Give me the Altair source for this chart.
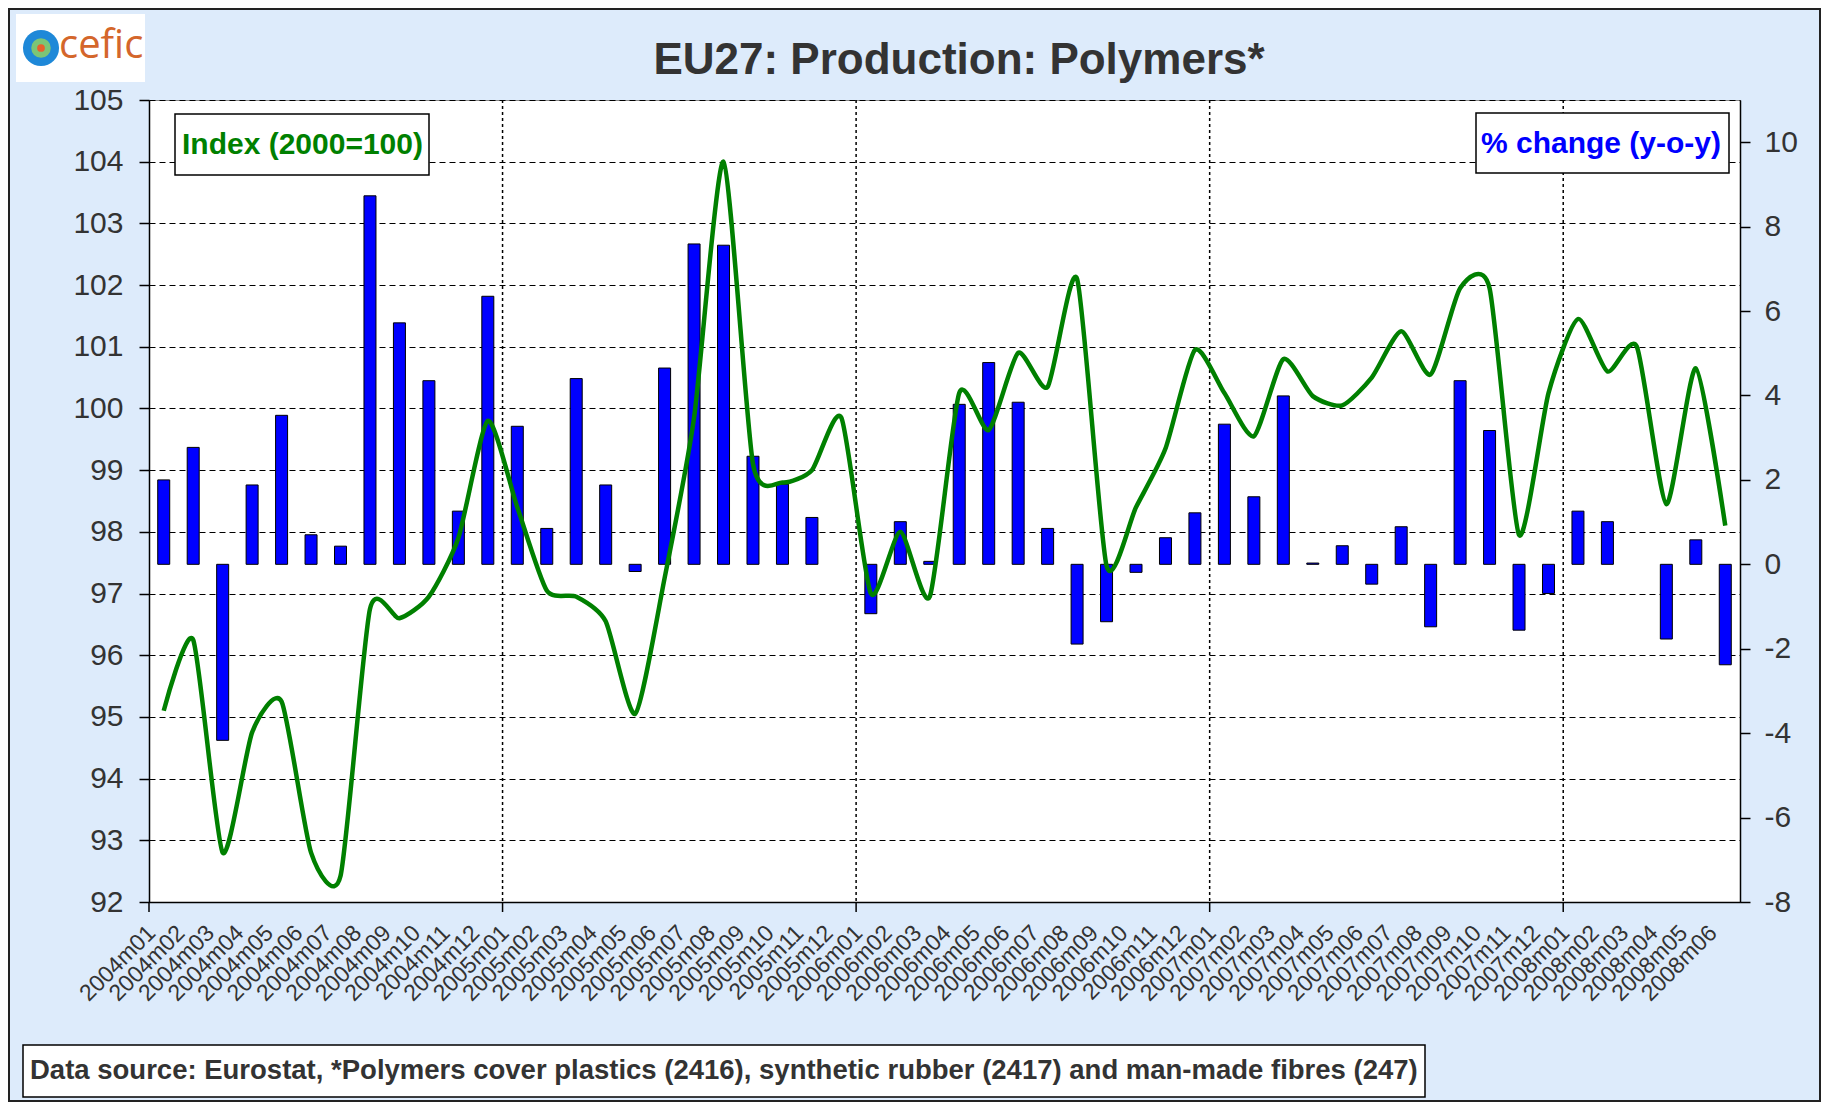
import altair as alt
import pandas as pd

MONTHS = [f"{y}m{m:02d}" for y in range(2004, 2009) for m in range(1, 13)][:54]

INDEX = [95.1, 96.25, 92.8, 94.75, 95.25, 92.8, 92.42, 96.75, 96.6, 96.95, 97.9, 99.8,
         98.4, 97.05, 96.95, 96.55, 95.05, 97.25, 99.85, 104.0, 99.1, 98.8, 99.0, 99.85,
         97.0, 98.0, 96.95, 100.25, 99.65, 100.9, 100.35, 102.1, 97.45, 98.4, 99.35, 100.95,
         100.25, 99.55, 100.8, 100.2, 100.05, 100.5, 101.25, 100.55, 101.95, 101.95, 97.95, 100.25,
         101.45, 100.6, 101.0, 98.45, 100.65, 98.1]

PCT = [2.0, 2.77, -4.17, 1.88, 3.53, 0.7, 0.43, 8.73, 5.72, 4.35, 1.26, 6.35,
       3.27, 0.85, 4.4, 1.88, -0.17, 4.65, 7.59, 7.56, 2.56, 1.9, 1.11, None,
       -1.17, 1.01, 0.07, 3.79, 4.78, 3.84, 0.85, -1.89, -1.36, -0.19, 0.63, 1.22,
       3.32, 1.6, 3.99, 0.03, 0.44, -0.47, 0.89, -1.48, 4.35, 3.17, -1.56, -0.69,
       1.26, 1.01, None, -1.77, 0.58, -2.38]

YEAR_STARTS = ["2004m01", "2005m01", "2006m01", "2007m01", "2008m01"]
LEFT_TICKS = list(range(92, 106))
RIGHT_TICKS = list(range(-8, 11, 2))

TITLE = "EU27: Production: Polymers*"
LEFT_LABEL = "Index (2000=100)"
RIGHT_LABEL = "% change (y-o-y)"
SOURCE = ("Data source: Eurostat, *Polymers cover plastics (2416), "
          "synthetic rubber (2417) and man-made fibres (247)")
LOGO = "cefic"

df = pd.DataFrame({"month": MONTHS, "index": INDEX, "pct": PCT})

W, H = 1591, 802
FONT = "Liberation Sans"
GRAY = "#333333"

xscale = alt.Scale(domain=MONTHS, paddingInner=0, paddingOuter=0)
xaxis = alt.Axis(title=None, labelAngle=-45, labelAlign="right", labelBaseline="middle",
                 labelOffset=-12, labelPadding=27, labelFontSize=23, labelColor=GRAY,
                 labelFont=FONT, labelOverlap=False, labelBound=False, labelFlush=False,
                 ticks=False, grid=False, domainColor="#000000", domainWidth=1.5)

X = alt.X("month:N", scale=xscale, axis=xaxis, sort=None)

vgrid = alt.Chart(pd.DataFrame({"month": YEAR_STARTS[1:]})).mark_rule(
    color="#000000", strokeDash=[3, 3], strokeWidth=1.5
).encode(
    x=alt.X("month:N", scale=xscale, axis=xaxis, sort=None, bandPosition=0),
    y=alt.value(0), y2=alt.value(H)
)

bars = alt.Chart(df).transform_filter("isValid(datum.pct)").mark_bar(
    color="#0000FF", stroke="#000000", strokeWidth=1, size=12
).encode(
    x=X,
    y=alt.Y("pct:Q", scale=alt.Scale(domain=[-8, 11], nice=False),
            axis=alt.Axis(orient="right", values=RIGHT_TICKS, title=None, grid=False,
                          tickSize=10, tickColor="#000000", tickWidth=1.5, labelPadding=14,
                          labelFontSize=30, labelColor=GRAY, labelFont=FONT,
                          domainColor="#000000", domainWidth=1.5,
                          labelExpr="toString(datum.value)"))
)

line = alt.Chart(df).mark_line(
    color="#008000", strokeWidth=4.5, interpolate="cardinal", tension=0.35
).encode(
    x=X,
    y=alt.Y("index:Q", scale=alt.Scale(domain=[92, 105], nice=False, zero=False),
            axis=alt.Axis(orient="left", values=LEFT_TICKS, title=None, grid=True,
                          gridDash=[6, 4], gridColor="#000000", gridWidth=1,
                          tickSize=10, tickColor="#000000", tickWidth=1.5, labelPadding=16,
                          labelFontSize=30, labelColor=GRAY, labelFont=FONT,
                          domainColor="#000000", domainWidth=1.5))
)

xticks = alt.Chart(pd.DataFrame({"month": YEAR_STARTS})).mark_rule(
    color="#000000", strokeWidth=1.5
).encode(
    x=alt.X("month:N", scale=xscale, axis=xaxis, sort=None, bandPosition=0),
    y=alt.value(H), y2=alt.value(H + 10)
)


def one(text):
    return alt.Chart(alt.Data(values=[{"t": text}]))


def box(x, x2, y, y2, fill="white", stroke="#000000", sw=1.5, op=1):
    return one("").mark_rect(fill=fill, stroke=stroke, strokeWidth=sw, fillOpacity=op).encode(
        x=alt.value(x), x2=alt.value(x2), y=alt.value(y), y2=alt.value(y2))


def label(text, x, y, size, color, weight="bold", align="left", font=FONT):
    return one(text).mark_text(align=align, baseline="middle", fontSize=size,
                               fontWeight=weight, color=color, font=font).encode(
        x=alt.value(x), y=alt.value(y), text="t:N")


def dot(x, y, size, color):
    return one("").mark_point(filled=True, size=size, color=color, opacity=1).encode(
        x=alt.value(x), y=alt.value(y))


layers = [
    vgrid, bars, line, xticks,
    box(26, 280, 14, 75),
    label(LEFT_LABEL, 33, 45, 30, "#008000"),
    box(1327, 1580, 13, 73),
    label(RIGHT_LABEL, 1332, 44, 30, "#0000FF"),
    label(TITLE, 810, -39, 44, GRAY, align="center"),
    box(-126, 1276, 945, 997),
    label(SOURCE, -119, 971, 27.5, GRAY),
    box(-133, -4, -86, -18, stroke="white", sw=0),
    dot(-108, -52, 1300, "#1E88D8"),
    dot(-108, -52, 380, "#7CC576"),
    dot(-108, -52, 60, "#E8602C"),
    label(LOGO, -90, -54, 40, "#D4662B", weight="normal", font="Open Sans"),
    box(-140, 1671, -91, 1001, fill="white", stroke="#222222", sw=2, op=0),
]

chart = alt.layer(*layers).resolve_scale(y="independent").properties(
    width=W, height=H,
    padding={"left": 141, "top": 92, "right": 81, "bottom": 200},
    autosize=alt.AutoSizeParams(type="none"),
    background="#DDEBFB",
).configure_view(fill="white", stroke="#888888", strokeWidth=1)

chart.save("out.html", embed_options={"renderer": "svg", "actions": False})
